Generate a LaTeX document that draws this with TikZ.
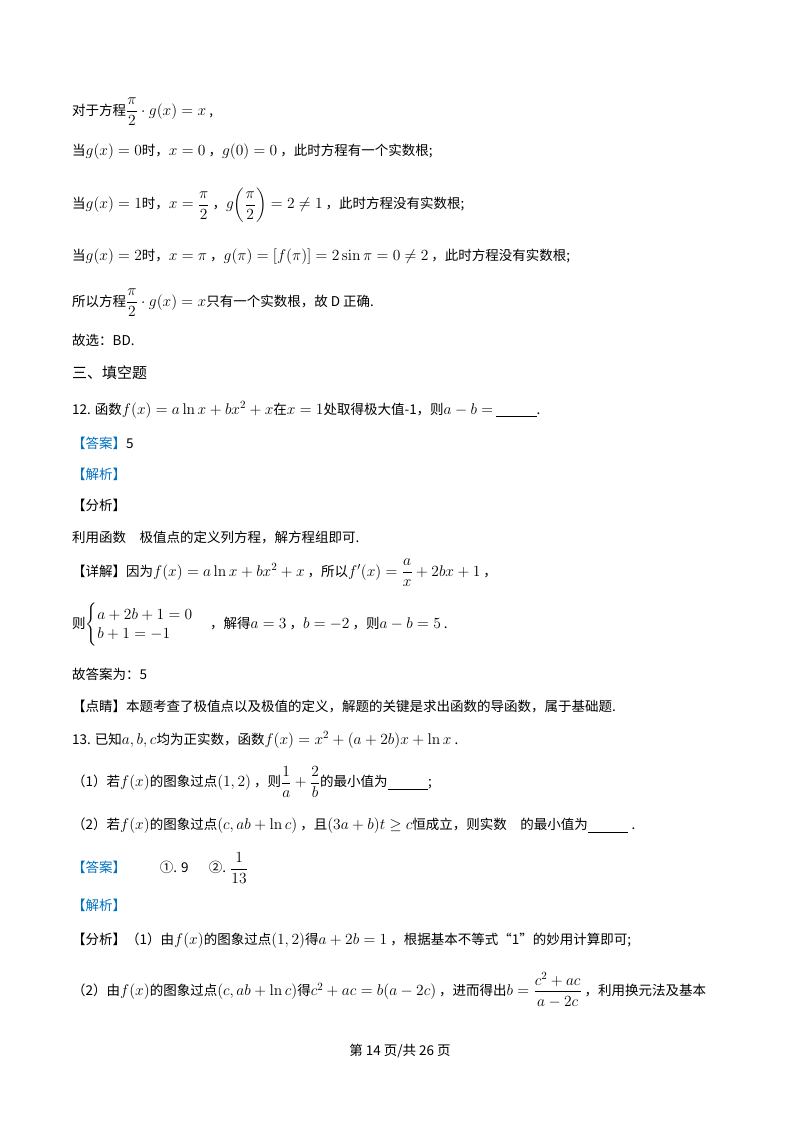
\documentclass[tikz,border=0pt]{standalone}
\usepackage{fix-cm}
\usepackage{amsmath}
\usepackage[no-math]{fontspec}
\setmainfont{Noto Sans CJK SC}
\DeclareMathSizes{13.5}{15.5}{11}{8}
\definecolor{ansblue}{RGB}{0,112,192}
\begin{document}
\begin{tikzpicture}[x=1pt,y=-1pt,
  t/.style={anchor=west,inner sep=0pt,font=\fontsize{13.5}{16}\selectfont},
  b/.style={t,text=ansblue}]
\useasboundingbox (0,0) rectangle (800,1132);
\node[t] (l1) at (72,112) {对于方程$\dfrac{\pi}{2}\cdot g(x)=x$ ,};
\node[t] (l2) at (72,152) {当$g(x)=0$时，$x=0$ ，$g(0)=0$ ，此时方程有一个实数根;};
\node[t] (l3) at (72,205) {当$g(x)=1$时，$x=\dfrac{\pi}{2}$ ，$g\!\left(\dfrac{\pi}{2}\right)=2\neq 1$ ，此时方程没有实数根;};
\node[t] (l4) at (72,257) {当$g(x)=2$时，$x=\pi$ ，$g(\pi)=\left[f(\pi)\right]=2\sin\pi=0\neq 2$ ，此时方程没有实数根;};
\node[t] (l5) at (72,303) {所以方程$\dfrac{\pi}{2}\cdot g(x)=x$只有一个实数根，故 D 正确.};
\node[t] (l6) at (72,340) {故选：BD.};
\node[t,font=\fontsize{15}{18}\selectfont] (l7) at (72,373) {三、填空题};
\node[t] (l8) at (72,410) {12. 函数$f(x)=a\ln x+bx^2+x$在$x=1$处取得极大值-1，则$a-b=$ \underline{\hspace{3em}}.};
\node[b] (l9) at (72,443) {【答案】\textcolor{black}{5}};
\node[b] (l10) at (72,474) {【解析】};
\node[t] (l11) at (72,505) {【分析】};
\node[t] (l12) at (72,537) {利用函数\hspace{1em}极值点的定义列方程，解方程组即可.};
\node[t] (l13) at (72,573) {【详解】因为$f(x)=a\ln x+bx^2+x$ ，所以$f'(x)=\dfrac{a}{x}+2bx+1$ ，};
\node[t] (l14) at (72,625) {则$\begin{cases}a+2b+1=0\\ b+1=-1\end{cases}$ ，解得$a=3$ ，$b=-2$ ，则$a-b=5$ .};
\node[t] (l15) at (72,674) {故答案为：5};
\node[t] (l16) at (72,706) {【点睛】本题考查了极值点以及极值的定义，解题的关键是求出函数的导函数，属于基础题.};
\node[t] (l17) at (72,740) {13. 已知$a,b,c$均为正实数，函数$f(x)=x^2+(a+2b)x+\ln x$ .};
\node[t] (l18) at (72,782) {（1）若$f(x)$的图象过点$(1,2)$ ，则$\dfrac{1}{a}+\dfrac{2}{b}$的最小值为\underline{\hspace{3em}};};
\node[t] (l19) at (72,826) {（2）若$f(x)$的图象过点$(c,ab+\ln c)$ ，且$(3a+b)t\geq c$恒成立，则实数\hspace{1em}的最小值为\underline{\hspace{3em}} .};
\node[b] (l20) at (72,868) {【答案】\hspace{2.5em}\textcolor{black}{①. 9\hspace{1.5em}②. $\dfrac{1}{13}$}};
\node[b] (l21) at (72,905) {【解析】};
\node[t] (l22) at (72,941) {【分析】（1）由$f(x)$的图象过点$(1,2)$得$a+2b=1$ ，根据基本不等式“1”的妙用计算即可;};
\node[t] (l23) at (72,990) {（2）由$f(x)$的图象过点$(c,ab+\ln c)$得$c^2+ac=b(a-2c)$ ，进而得出$b=\dfrac{c^2+ac}{a-2c}$ ，利用换元法及基本};
\node[anchor=center,inner sep=0pt,font=\fontsize{13.5}{16}\selectfont] (ft) at (400,1051) {第 14 页/共 26 页};
\end{tikzpicture}
\end{document}
